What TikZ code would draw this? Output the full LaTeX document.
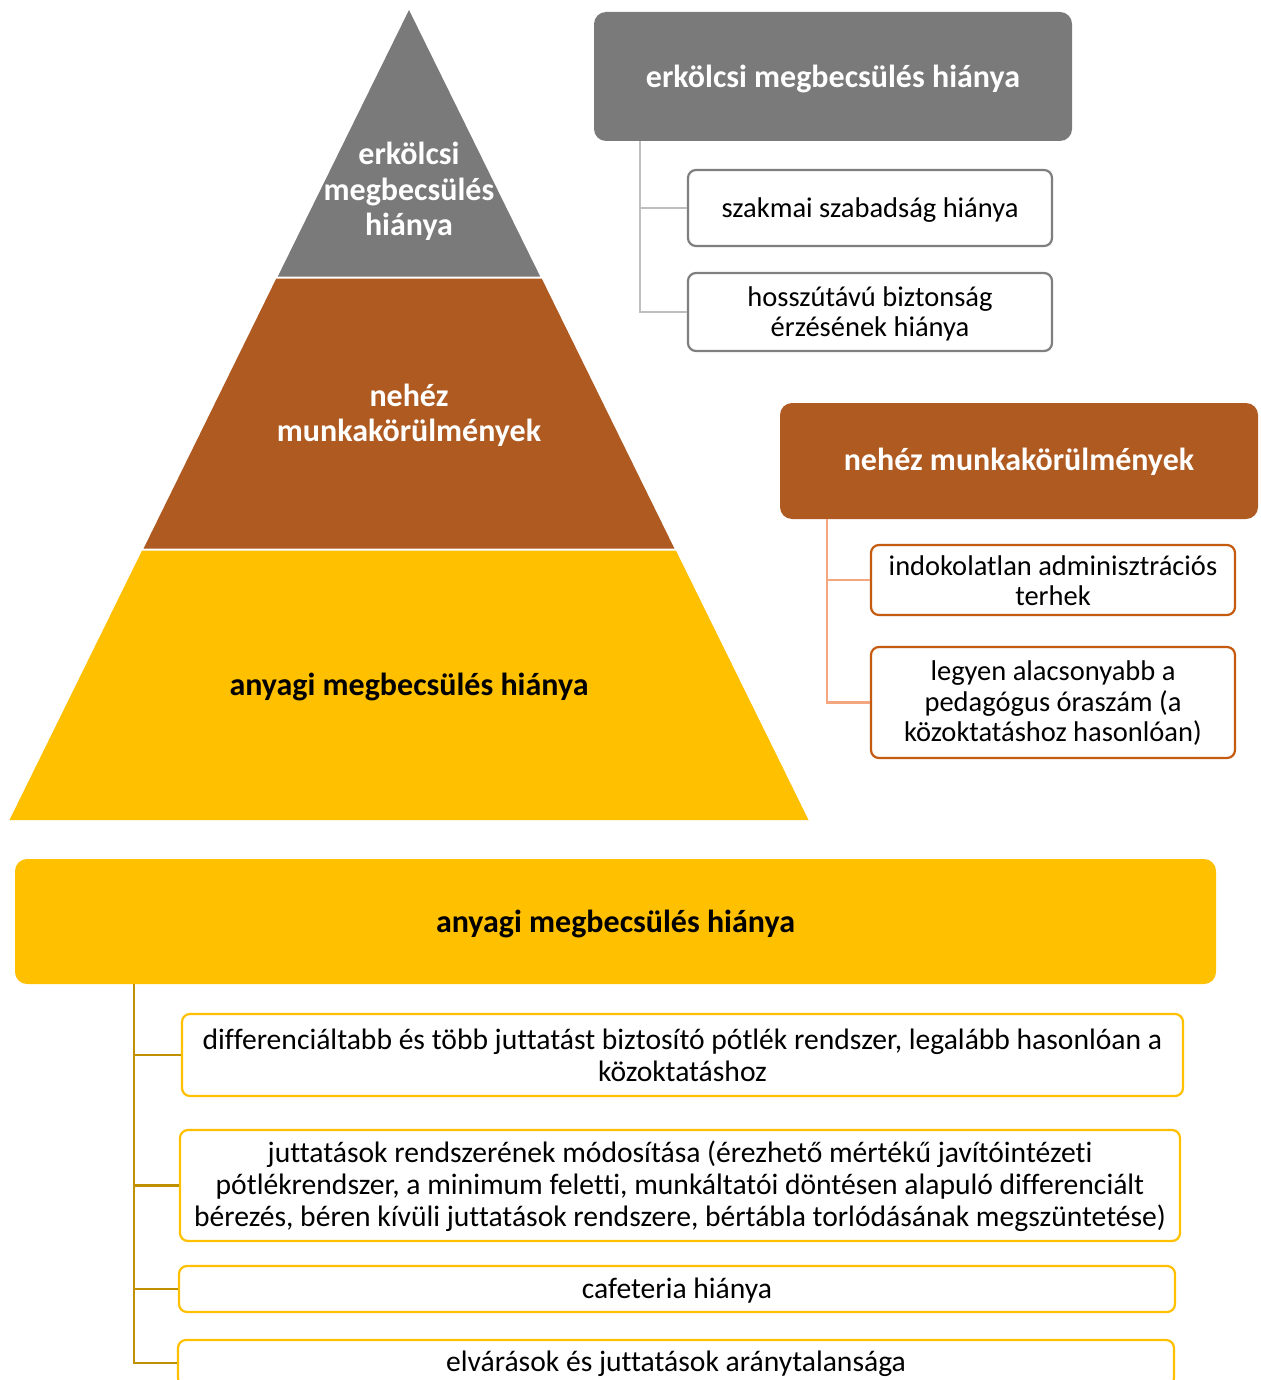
\documentclass[tikz,border=0pt]{standalone}
\usepackage{fontspec}
\setmainfont{Carlito}[Ligatures={NoCommon}]
\definecolor{cgray}{HTML}{7A7A7A}
\definecolor{cbrown}{HTML}{AE5A21}
\definecolor{cyellow}{HTML}{FFC000}
\definecolor{kgray}{HTML}{7F7F7F}
\definecolor{lgray}{HTML}{BFBFBF}
\definecolor{kbrown}{HTML}{C55A11}
\definecolor{lbrown}{HTML}{F4A77E}
\definecolor{lgold}{HTML}{BF9000}
\begin{document}
\begin{tikzpicture}[x=1pt,y=-1pt,
  hdr/.style={rounded corners=12pt, inner sep=0pt},
  hdrtext/.style={inner sep=0pt, align=center, font=\bfseries\fontsize{32}{36}\selectfont},
  kid/.style={rounded corners=8pt, draw, line width=2.2pt, fill=white, inner sep=0pt},
  kidtext/.style={inner sep=0pt, align=center, font=\fontsize{28.5}{30.5}\selectfont},
  bigtext/.style={inner sep=0pt, align=center, font=\fontsize{29.6}{32}\selectfont},
  tier/.style={align=center, inner sep=0pt, font=\bfseries\fontsize{32}{35.5}\selectfont},
  conn/.style={line width=2.5pt}]
\clip (0,0) rectangle (1260,1380);
\fill[white] (0,0) rectangle (1260,1380);
% pyramid
\fill[cgray] (409,10) -- (540.2,276.5) -- (277.8,276.5) -- cycle;
\fill[cbrown] (276.3,278.5) -- (541.7,278.5) -- (674.4,548.5) -- (143.6,548.5) -- cycle;
\fill[cyellow] (142.1,550.5) -- (675.9,550.5) -- (808.5,820) -- (9.5,820) -- cycle;
\node[tier, text=white] (t1) at (409,191.5) {erkölcsi\\megbecsülés\\hiánya};
\node[tier, text=white] (t2) at (409,415.5) {nehéz\\munkakörülmények};
\node[tier, text=black] (t3) at (409,687) {anyagi megbecsülés hiánya};
% gray group
\node[hdr, fill=cgray, minimum width=478pt, minimum height=129pt] (gh) at (833,76.5) {};
\node[hdrtext, text=white] (ght) at ([yshift=-2pt]gh.center) {erkölcsi megbecsülés hiánya};
\node[kid, draw=kgray, minimum width=364pt, minimum height=76pt] (g1) at (870,208) {};
\node[kidtext] (g1t) at ([yshift=-2pt]g1.center) {szakmai szabadság hiánya};
\node[kid, draw=kgray, minimum width=364pt, minimum height=78pt] (g2) at (870,312) {};
\node[kidtext] (g2t) at ([yshift=-2pt]g2.center) {hosszútávú biztonság\\érzésének hiánya};
\draw[conn, lgray] ([xshift=46pt]gh.south west) |- (g1.west);
\draw[conn, lgray] ([xshift=46pt]gh.south west) |- (g2.west);
% brown group
\node[hdr, fill=cbrown, minimum width=478pt, minimum height=116pt] (bh) at (1019,461) {};
\node[hdrtext, text=white] (bht) at ([yshift=-1pt]bh.center) {nehéz munkakörülmények};
\node[kid, draw=kbrown, minimum width=364pt, minimum height=70pt] (b1) at (1053,580) {};
\node[kidtext] (b1t) at ([yshift=-0.5pt]b1.center) {indokolatlan adminisztrációs\\terhek};
\node[kid, draw=kbrown, minimum width=364pt, minimum height=111pt] (b2) at (1053,702.5) {};
\node[kidtext] (b2t) at ([yshift=-1pt]b2.center) {legyen alacsonyabb a\\pedagógus óraszám (a\\közoktatáshoz hasonlóan)};
\draw[conn, lbrown] ([xshift=47pt]bh.south west) |- (b1.west);
\draw[conn, lbrown] ([xshift=47pt]bh.south west) |- (b2.west);
% yellow group
\node[hdr, fill=cyellow, minimum width=1201pt, minimum height=125pt] (yh) at (615.5,921.5) {};
\node[hdrtext, text=black] (yht) at ([yshift=-2pt]yh.center) {anyagi megbecsülés hiánya};
\node[kid, draw=cyellow, minimum width=1001pt, minimum height=82pt] (y1) at (682.5,1055) {};
\node[bigtext] (y1t) at ([yshift=0pt]y1.center) {differenciáltabb és több juttatást biztosító pótlék rendszer, legalább hasonlóan a\\közoktatáshoz};
\node[kid, draw=cyellow, minimum width=1000pt, minimum height=111pt] (y2) at (680,1185.5) {};
\node[bigtext] (y2t) at ([yshift=-0.5pt]y2.center) {juttatások rendszerének módosítása (érezhető mértékű javítóintézeti\\pótlékrendszer, a minimum feletti, munkáltatói döntésen alapuló differenciált\\bérezés, béren kívüli juttatások rendszere, bértábla torlódásának megszüntetése)};
\node[kid, draw=cyellow, minimum width=996pt, minimum height=46pt] (y3) at (677,1289) {};
\node[bigtext] (y3t) at ([yshift=-2pt]y3.center) {cafeteria hiánya};
\node[kid, draw=cyellow, minimum width=996pt, minimum height=46pt] (y4) at (676,1363) {};
\node[bigtext] (y4t) at ([yshift=-1pt]y4.center) {elvárások és juttatások aránytalansága};
\draw[conn, lgold] ([xshift=119pt]yh.south west) |- (y1.west);
\draw[conn, lgold] ([xshift=119pt]yh.south west) |- (y2.west);
\draw[conn, lgold] ([xshift=119pt]yh.south west) |- (y3.west);
\draw[conn, lgold] ([xshift=119pt]yh.south west) |- (y4.west);
\end{tikzpicture}
\end{document}
